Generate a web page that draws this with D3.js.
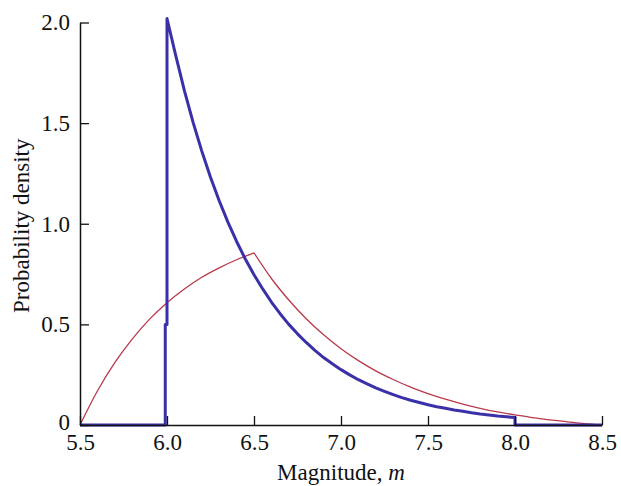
<!DOCTYPE html>
<html>
<head>
<meta charset="utf-8">
<script src="https://cdn.jsdelivr.net/npm/d3@7"></script>
<style>
  html, body { margin: 0; padding: 0; background: #fff; }
  svg { display: block; }
  text { font-family: "Liberation Serif", "Times New Roman", serif; fill: #111; }
</style>
</head>
<body>
<svg id="chart" width="621" height="486"></svg>
<script>
// ---- data ----
const xTicks = [5.5, 6.0, 6.5, 7.0, 7.5, 8.0, 8.5];
const xTickLabels = ["5.5", "6.0", "6.5", "7.0", "7.5", "8.0", "8.5"];
const yTicks = [0, 0.5, 1.0, 1.5, 2.0];
const yTickLabels = ["0", "0.5", "1.0", "1.5", "2.0"];

// blue curve (truncated distribution 6.0 - 8.0)
const blueM = [5.5, 5.99, 5.99, 6.0, 6.0, 6.05, 6.10, 6.15, 6.20, 6.25, 6.30, 6.35, 6.40, 6.45, 6.50,
  6.55, 6.60, 6.65, 6.70, 6.75, 6.80, 6.85, 6.90, 6.95, 7.00, 7.05, 7.10, 7.15, 7.20, 7.25,
  7.30, 7.35, 7.40, 7.45, 7.50, 7.55, 7.60, 7.65, 7.70, 7.75, 7.80, 7.85, 7.90, 7.95, 8.00, 8.00, 8.5];
const blueP = [0, 0, 0.5, 0.5, 2.02, 1.837, 1.662, 1.504, 1.361, 1.231, 1.114, 1.008, 0.912, 0.825, 0.747,
  0.676, 0.611, 0.553, 0.500, 0.453, 0.410, 0.371, 0.335, 0.304, 0.275, 0.249, 0.225, 0.204, 0.184, 0.167,
  0.151, 0.136, 0.123, 0.112, 0.101, 0.091, 0.083, 0.075, 0.068, 0.061, 0.055, 0.050, 0.045, 0.041, 0.037, 0, 0];

// red curve: rising branch and falling branch (peak at 6.5)
const redRiseM = [5.5, 5.6, 5.7, 5.8, 5.9, 6.0, 6.1, 6.2, 6.3, 6.4, 6.5];
const redRiseP = [0, 0.169, 0.310, 0.427, 0.526, 0.608, 0.676, 0.734, 0.781, 0.821, 0.855];
const redFallM = [6.5, 6.6, 6.7, 6.8, 6.9, 7.0, 7.1, 7.2, 7.3, 7.4, 7.5, 7.6, 7.7, 7.8, 7.9, 8.0,
  8.1, 8.2, 8.3, 8.4, 8.5];
const redFallP = [0.855, 0.728, 0.621, 0.528, 0.448, 0.379, 0.320, 0.269, 0.226, 0.188, 0.156, 0.128,
  0.104, 0.083, 0.065, 0.050, 0.037, 0.025, 0.016, 0.007, 0];

const xLabel = "Magnitude, ";
const xLabelVar = "m";
const yLabel = "Probability density";

// ---- layout ----
const FONT = 23;
const svg = d3.select("#chart");
const x = d3.scaleLinear().domain([5.5, 8.5]).range([80, 602]);
const y = d3.scaleLinear().domain([0, 2]).range([425, 22.5]);

const lineLin = d3.line().x(d => x(d[0])).y(d => y(d[1]));
const lineSmooth = d3.line().x(d => x(d[0])).y(d => y(d[1])).curve(d3.curveMonotoneX);

const red = "#b83a4c";
[[redRiseM, redRiseP], [redFallM, redFallP]].forEach(([ms, ps]) => {
  svg.append("path")
    .datum(ms.map((m, i) => [m, ps[i]]))
    .attr("d", lineSmooth)
    .attr("fill", "none")
    .attr("stroke", red)
    .attr("stroke-width", 1.3);
});

svg.append("path")
  .datum(blueM.map((m, i) => [m, blueP[i]]))
  .attr("d", lineLin)
  .attr("fill", "none")
  .attr("stroke", "#3a30a8")
  .attr("stroke-width", 3)
  .attr("stroke-linejoin", "round");

// axes
const xAxis = d3.axisBottom(x).tickValues(xTicks)
  .tickFormat((d, i) => xTickLabels[i]).tickSizeInner(-9).tickSizeOuter(0).tickPadding(8.5);
const gx = svg.append("g").attr("transform", "translate(0,425)").call(xAxis);

const yAxis = d3.axisLeft(y).tickValues(yTicks)
  .tickFormat((d, i) => yTickLabels[i]).tickSizeInner(-9).tickSizeOuter(0).tickPadding(10);
const gy = svg.append("g").attr("transform", "translate(80,0)").call(yAxis);

[gx, gy].forEach(g => {
  g.select(".domain").attr("stroke", "#111").attr("stroke-width", 1.5);
  g.selectAll(".tick line").attr("stroke", "#111").attr("stroke-width", 1.3);
  g.selectAll(".tick text")
    .attr("font-family", "'Liberation Serif', 'Times New Roman', serif")
    .attr("font-size", FONT).attr("fill", "#111");
});
// lift the "0" label a touch so it clears the first x label
gy.selectAll(".tick text").filter(d => d === 0).attr("dy", "0.2em");

// axis titles
const xt = svg.append("text")
  .attr("x", x(7.0)).attr("y", 480)
  .attr("text-anchor", "middle")
  .attr("font-size", FONT);
xt.append("tspan").text(xLabel);
xt.append("tspan").attr("font-style", "italic").text(xLabelVar);

svg.append("text")
  .attr("transform", `translate(29,${(y(0) + y(2)) / 2 + 2}) rotate(-90)`)
  .attr("text-anchor", "middle")
  .attr("font-size", FONT)
  .text(yLabel);
</script>
</body>
</html>
